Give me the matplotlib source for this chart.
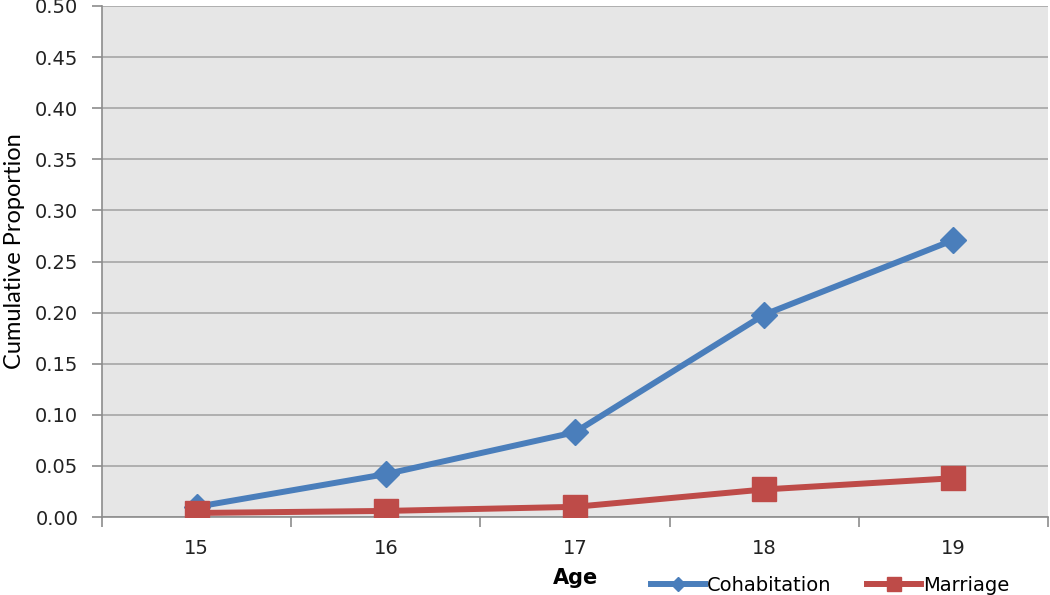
import numpy as np
import matplotlib.pyplot as plt

# data
ages = ['15', '16', '17', '18', '19']
cohabitation = [0.010, 0.042, 0.083, 0.198, 0.271]
marriage = [0.004, 0.006, 0.010, 0.027, 0.038]

blue = '#4A7EBB'
red = '#BE4B48'

fig = plt.figure(figsize=(10.5, 5.95), dpi=100)
ax = fig.add_axes([0.0971, 0.131, 0.901, 0.859])
ax.set_facecolor('#E6E6E6')

x = np.arange(len(ages))
ax.plot(x, cohabitation, color=blue, lw=4.3, marker='D', ms=13, label='Cohabitation', zorder=3)
ax.plot(x, marriage, color=red, lw=4.3, marker='s', ms=17, label='Marriage', zorder=4)

ax.set_xlim(-0.5, len(ages) - 0.5)
ax.set_ylim(0, 0.5)
ax.set_yticks(np.arange(0, 0.501, 0.05))
ax.set_yticklabels([f'{v:.2f}' for v in np.arange(0, 0.501, 0.05)], fontsize=14, color='#222222')
ax.grid(axis='y', color='#A6A6A6', lw=1.2)
ax.set_axisbelow(True)

# category labels at centers, tick marks at the boundaries
ax.set_xticks(np.arange(-0.5, len(ages)), labels=[''] * (len(ages) + 1))
ax.set_xticks(x, labels=ages, minor=True)
ax.tick_params(axis='x', which='minor', length=0, labelsize=14, pad=16, labelcolor='#222222')
ax.tick_params(axis='x', which='major', length=7, color='#8C8C8C', width=1.2)
ax.tick_params(axis='y', length=7, color='#8C8C8C', width=1.2, pad=10)

for s in ['top', 'right']:
    ax.spines[s].set_visible(False)
for s in ['left', 'bottom']:
    ax.spines[s].set_color('#8C8C8C')
    ax.spines[s].set_linewidth(1.2)

ax.set_ylabel('Cumulative Proportion', fontsize=17, family=['Lato', 'DejaVu Sans'])
ax.yaxis.set_label_coords(-0.081, 0.52)

fig.text(0.548, 0.028, 'Age', fontsize=15, fontweight='bold', ha='center', va='center')
leg = fig.legend(loc='center left', bbox_to_anchor=(0.603, 0.016), ncol=2, frameon=False,
                 fontsize=14, handlelength=2.8, handletextpad=0.1, columnspacing=1.8)
leg.legend_handles[0].set_markersize(7)
leg.legend_handles[1].set_markersize(10)

fig.savefig('out.png', dpi=100)
